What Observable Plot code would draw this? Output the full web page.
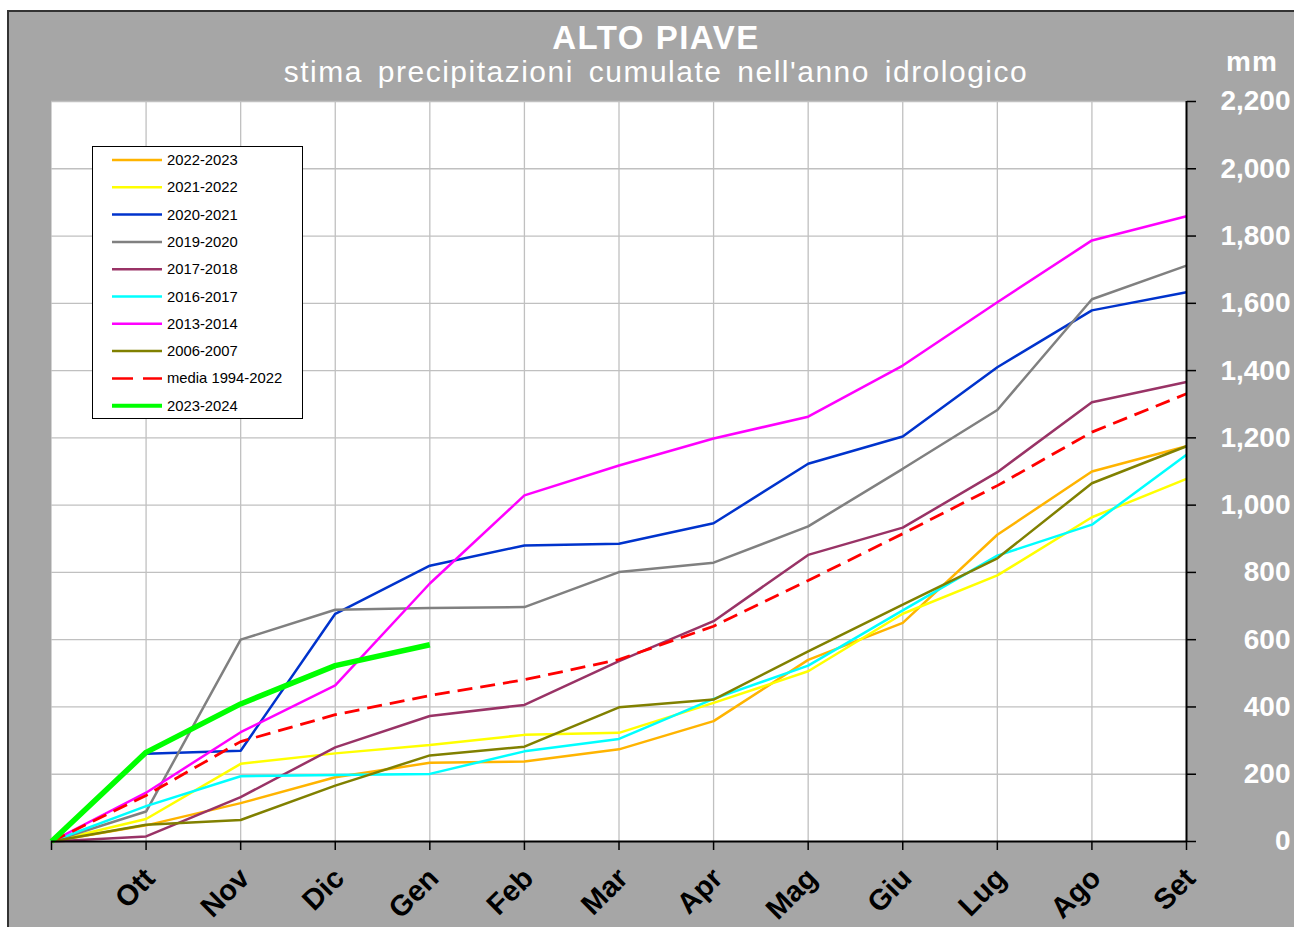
<!DOCTYPE html>
<html><head><meta charset="utf-8">
<script src="https://cdn.jsdelivr.net/npm/d3@7"></script>
<script src="https://cdn.jsdelivr.net/npm/@observablehq/plot@0.6"></script>
<style>
html,body{margin:0;padding:0;background:#fff;}
body{width:1294px;height:927px;overflow:hidden;position:relative;font-family:"Liberation Sans",Arial,sans-serif;}
#panel{position:absolute;left:7px;top:10px;width:1287px;height:917px;background:#a6a6a6;border-left:2px solid #333;border-top:2px solid #333;box-sizing:border-box;}
.t{position:absolute;color:#fff;white-space:pre;line-height:1;}
#title{left:0;width:1312px;text-align:center;top:21px;font-size:33px;font-weight:bold;letter-spacing:1.5px;}
#sub{left:0;width:1312px;text-align:center;top:57px;font-size:30px;word-spacing:5px;letter-spacing:1.5px;}
#mm{left:1226px;top:48px;font-size:28px;font-weight:bold;letter-spacing:1px;}
#chart{position:absolute;left:0;top:90px;}
#legend{position:absolute;left:92px;top:146px;width:211px;height:273px;background:#fff;border:1px solid #000;box-sizing:border-box;}
</style></head>
<body>
<div id="panel"></div>
<div class="t" id="title">ALTO PIAVE</div>
<div class="t" id="sub">stima precipitazioni cumulate nell'anno idrologico</div>
<div class="t" id="mm">mm</div>
<div id="chart"></div>
<div id="legend"></div>
<script>
const months = ["Ott","Nov","Dic","Gen","Feb","Mar","Apr","Mag","Giu","Lug","Ago","Set"];
const yTicks = [0,200,400,600,800,1000,1200,1400,1600,1800,2000,2200];

const s2022_2023 = [0,48,114,191,234,238,274,358,540,650,912,1100,1175];
const s2021_2022 = [0,67,231,262,287,317,323,412,506,677,791,964,1078];
const s2020_2021 = [0,261,270,677,820,880,885,946,1123,1204,1410,1579,1633];
const s2019_2020 = [0,89,600,689,694,697,801,829,937,1108,1283,1612,1712];
const s2017_2018 = [0,15,132,280,373,406,536,655,852,933,1098,1306,1366];
const s2016_2017 = [0,105,194,198,201,268,305,424,523,687,850,942,1150];
const s2013_2014 = [0,145,325,464,767,1029,1118,1198,1263,1415,1603,1787,1859];
const s2006_2007 = [0,50,64,166,256,282,399,422,565,704,842,1065,1175];
const media = [0,137,297,377,434,481,541,640,776,915,1058,1217,1331];
const s2023_2024 = [0,265,409,523,585];

const series = [
  {name:"2022-2023", values:s2022_2023, color:"#FFB400", width:2.5},
  {name:"2021-2022", values:s2021_2022, color:"#FFFF00", width:2.5},
  {name:"2020-2021", values:s2020_2021, color:"#0033CC", width:2.5},
  {name:"2019-2020", values:s2019_2020, color:"#808080", width:2.5},
  {name:"2017-2018", values:s2017_2018, color:"#993366", width:2.5},
  {name:"2016-2017", values:s2016_2017, color:"#00FFFF", width:2.5},
  {name:"2013-2014", values:s2013_2014, color:"#FF00FF", width:2.5},
  {name:"2006-2007", values:s2006_2007, color:"#808000", width:2.5},
  {name:"media 1994-2022", values:media, color:"#FF0000", width:2.8, dash:"15,8"},
  {name:"2023-2024", values:s2023_2024, color:"#00FF00", width:5.5}
];

const lineMarks = series.map(s => Plot.line(s.values.map((v,i)=>({i, v})), {
  x:"i", y:"v", stroke:s.color, strokeWidth:s.width,
  strokeDasharray:s.dash, strokeLinejoin:"miter", strokeLinecap:"butt"
}));

const xTickVals = d3.range(0,13);

const chart = Plot.plot({
  width:1294, height:837,
  marginTop:11, marginBottom:86, marginLeft:51, marginRight:108,
  style:{background:"transparent", fontFamily:"'Liberation Sans', Arial, sans-serif", overflow:"visible"},
  x:{domain:[0,12], axis:null, label:null},
  y:{domain:[0,2200], axis:null, label:null},
  marks:[
    Plot.frame({fill:"white", stroke:"none"}),
    Plot.gridX(d3.range(1,12), {stroke:"#c0c0c0", strokeOpacity:1, strokeWidth:1.3}),
    Plot.gridY(yTicks.slice(1), {stroke:"#c0c0c0", strokeOpacity:1, strokeWidth:1.3}),
    ...lineMarks,
    Plot.ruleY([0], {stroke:"black", strokeWidth:2}),
    Plot.ruleX([12], {stroke:"black", strokeWidth:2}),
    Plot.axisX(xTickVals, {
      label:null, tickSize:9, fill:"none", stroke:"black", strokeWidth:1.5
    }),
    Plot.axisX(xTickVals, {
      label:null,
      tickFormat: i => i === 0 ? "" : months[i-1],
      tickRotate:-45, tickSize:0, tickPadding:31, dx:4, dy:1,
      fontSize:29, fontWeight:"bold", fill:"black", stroke:"none"
    }),
    Plot.axisY(yTicks, {
      label:null,
      anchor:"right", tickFormat:d3.format(","), tickSize:9, tickPadding:95,
      textAnchor:"end", fontSize:28, fontWeight:"bold", fill:"white", stroke:"black", strokeWidth:1.5
    })
  ]
});
document.getElementById("chart").appendChild(chart);

// legend
const ns = "http://www.w3.org/2000/svg";
const lg = document.createElementNS(ns, "svg");
lg.setAttribute("width", 209); lg.setAttribute("height", 271);
series.forEach((s, k) => {
  const y = 13 + k * 27.3;
  const ln = document.createElementNS(ns, "line");
  ln.setAttribute("x1", 19); ln.setAttribute("x2", 69);
  ln.setAttribute("y1", y); ln.setAttribute("y2", y);
  ln.setAttribute("stroke", s.color);
  ln.setAttribute("stroke-width", s.width > 5 ? 4 : 2.5);
  if (s.dash) ln.setAttribute("stroke-dasharray", "21,10");
  lg.appendChild(ln);
  const tx = document.createElementNS(ns, "text");
  tx.setAttribute("x", 74); tx.setAttribute("y", y + 5);
  tx.setAttribute("font-size", 14.8);
  tx.setAttribute("font-family", "'Liberation Sans', Arial, sans-serif");
  tx.textContent = s.name;
  lg.appendChild(tx);
});
document.getElementById("legend").appendChild(lg);
</script>
</body></html>
